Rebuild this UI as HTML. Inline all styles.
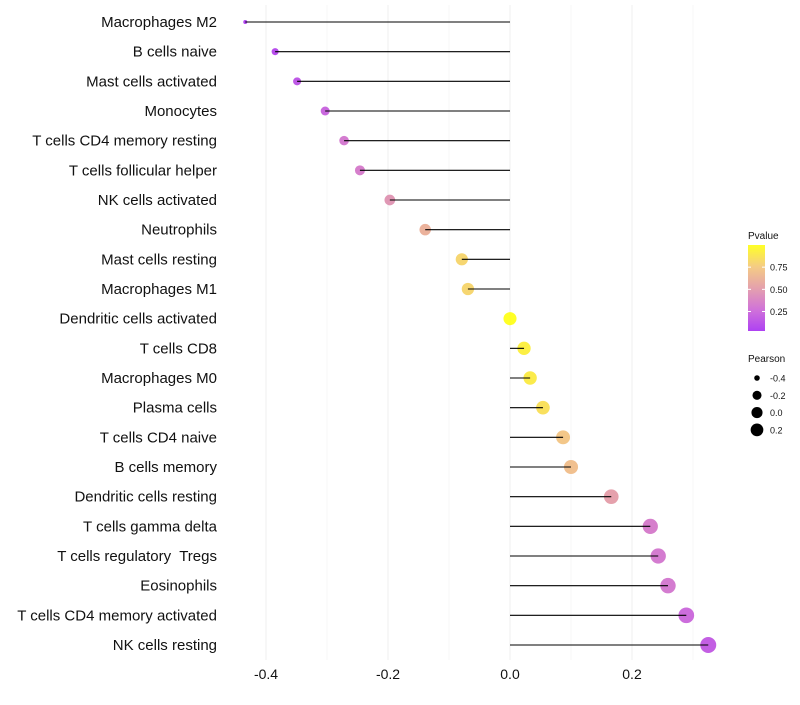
<!DOCTYPE html>
<html><head><meta charset="utf-8"><style>
body{margin:0;background:#fff;font-family:"Liberation Sans",sans-serif;}
svg text{font-family:"Liberation Sans",sans-serif;white-space:pre;}
</style></head><body>
<svg id="chart" width="800" height="700"></svg>
<script>
const categories=["Macrophages M2","B cells naive","Mast cells activated","Monocytes","T cells CD4 memory resting","T cells follicular helper","NK cells activated","Neutrophils","Mast cells resting","Macrophages M1","Dendritic cells activated","T cells CD8","Macrophages M0","Plasma cells","T cells CD4 naive","B cells memory","Dendritic cells resting","T cells gamma delta","T cells regulatory  Tregs","Eosinophils","T cells CD4 memory activated","NK cells resting"];
const pearson=[-0.434,-0.385,-0.349,-0.303,-0.272,-0.246,-0.197,-0.139,-0.079,-0.069,0.0,0.023,0.033,0.054,0.087,0.1,0.166,0.23,0.243,0.259,0.289,0.325];
const pvalue=[0.02,0.06,0.12,0.2,0.3,0.32,0.45,0.6,0.8,0.8,1.0,0.92,0.9,0.85,0.72,0.68,0.5,0.32,0.3,0.3,0.22,0.15];
const xTicks=[-0.4,-0.2,0.0,0.2];
const xTickLabels=["-0.4","-0.2","0.0","0.2"];
const xMinor=[-0.3,-0.1,0.1,0.3];
const pTicks=[0.25,0.5,0.75];
const pTickLabels=["0.25","0.50","0.75"];
const sizeLegend=[-0.4,-0.2,0.0,0.2];
const sizeLegendLabels=["-0.4","-0.2","0.0","0.2"];

const NS="http://www.w3.org/2000/svg";
const svg=document.getElementById('chart');
function mk(tag,attrs,parent){const e=document.createElementNS(NS,tag);for(const k in attrs)e.setAttribute(k,attrs[k]);(parent||svg).appendChild(e);return e;}
const x=v=>510+v*610;
const y=i=>22+i*(623/21);
const r=v=>2+6*Math.sqrt(Math.max(0,(v+0.434))/0.76);
const stops=[[0,[160,32,240]],[0.25,[200,90,210]],[0.5,[224,145,158]],[0.75,[243,195,110]],[1,[255,255,0]]];
function col(p){p=Math.max(0,Math.min(1,p));for(let i=1;i<stops.length;i++){if(p<=stops[i][0]){const a=stops[i-1],b=stops[i];const t=(p-a[0])/(b[0]-a[0]);const c=a[1].map((v,k)=>Math.round(v+(b[1][k]-v)*t));return `rgb(${c.join(',')})`;}}return 'rgb(255,255,0)';}

xMinor.forEach(v=>{const l=mk('line',{x1:x(v),x2:x(v),y1:5,y2:660,stroke:'#f7f7f7','stroke-width':1});
});
xTicks.forEach((v,i)=>{const l=mk('line',{x1:x(v),x2:x(v),y1:5,y2:660,stroke:'#efefef','stroke-width':1});

const t=mk('text',{x:x(v),y:679,'text-anchor':'middle','font-size':14,fill:'#111'});t.textContent=xTickLabels[i];
});

categories.forEach((c,i)=>{
 const t=mk('text',{x:217,y:y(i)+5,'text-anchor':'end','font-size':15,fill:'#111'});t.textContent=c;
 
 const pt=mk('circle',{cx:x(pearson[i]),cy:y(i),r:r(pearson[i]),fill:col(pvalue[i]),'fill-opacity':0.85});
 
 const seg=mk('line',{x1:x(0),x2:x(pearson[i]),y1:y(i),y2:y(i),stroke:'#000','stroke-width':1.1});
 
});

const g=mk('g',{});
const tt=mk('text',{x:748,y:239,'font-size':10,fill:'#111'},g);tt.textContent='Pvalue';
const defs=mk('defs',{});const lg=mk('linearGradient',{id:'pg',x1:0,y1:1,x2:0,y2:0},defs);
stops.forEach(s=>mk('stop',{offset:s[0],'stop-color':col(s[0]),'stop-opacity':0.85},lg));
const by=v=>331-(v-0.03)/(0.97)*86;
mk('rect',{x:748,y:245,width:17,height:86,fill:'url(#pg)'},g);
pTicks.forEach((v,i)=>{mk('line',{x1:748,x2:751,y1:by(v),y2:by(v),stroke:'#fff'},g);mk('line',{x1:762,x2:765,y1:by(v),y2:by(v),stroke:'#fff'},g);
 const t=mk('text',{x:770,y:by(v)+3.5,'font-size':9,fill:'#111'},g);t.textContent=pTickLabels[i];});
const g2=mk('g',{});
const t2=mk('text',{x:748,y:362,'font-size':10,fill:'#111'},g2);t2.textContent='Pearson';
sizeLegend.forEach((v,i)=>{const cy=378+i*17.3;mk('circle',{cx:757,cy:cy,r:r(v)*0.85,fill:'#000'},g2);
 const t=mk('text',{x:770,y:cy+3.5,'font-size':9,fill:'#111'},g2);t.textContent=sizeLegendLabels[i];});
</script>
</body></html>
